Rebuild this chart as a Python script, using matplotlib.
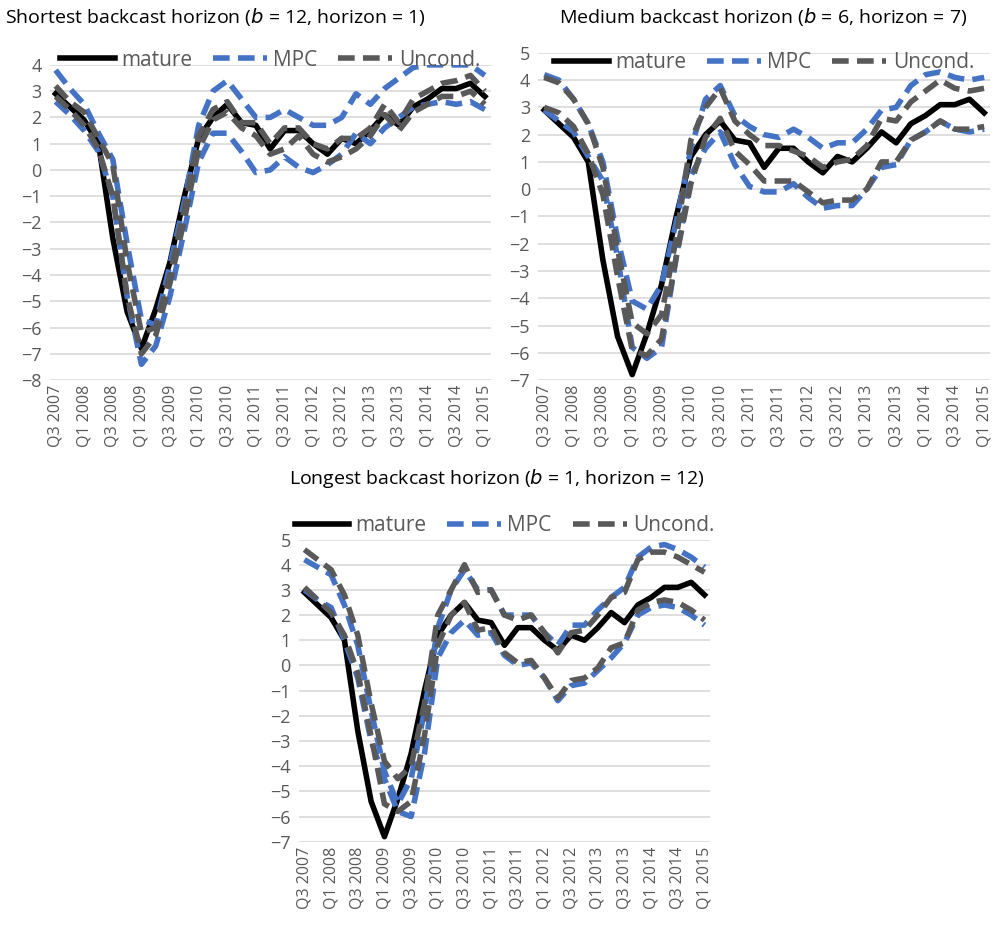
import matplotlib
matplotlib.use("Agg")
import matplotlib.pyplot as plt
import numpy as np

plt.rcParams['font.family'] = ['Open Sans', 'DejaVu Sans']

quarters = ["Q3 2007", "Q4 2007", "Q1 2008", "Q2 2008", "Q3 2008", "Q4 2008", "Q1 2009", "Q2 2009",
            "Q3 2009", "Q4 2009", "Q1 2010", "Q2 2010", "Q3 2010", "Q4 2010", "Q1 2011", "Q2 2011",
            "Q3 2011", "Q4 2011", "Q1 2012", "Q2 2012", "Q3 2012", "Q4 2012", "Q1 2013", "Q2 2013",
            "Q3 2013", "Q4 2013", "Q1 2014", "Q2 2014", "Q3 2014", "Q4 2014", "Q1 2015"]

mature = [2.9, 2.4, 1.9, 1.0, -2.6, -5.4, -6.8, -5.3, -3.5, -1.0, 1.2, 2.0, 2.5, 1.8, 1.7, 0.8,
          1.5, 1.5, 1.0, 0.6, 1.2, 1.0, 1.5, 2.1, 1.7, 2.4, 2.7, 3.1, 3.1, 3.3, 2.8]

# panel 1: shortest backcast horizon
p1_mpc_hi = [3.8, 3.1, 2.5, 1.4, 0.4, -2.8, -5.7, -5.9, -3.6, -1.2, 1.7, 3.0, 3.4, 2.7, 2.0, 2.0,
             2.3, 2.0, 1.7, 1.7, 2.0, 2.9, 2.5, 3.1, 3.5, 3.9, 4.0, 4.0, 4.0, 4.0, 3.6]
p1_mpc_lo = [2.6, 2.1, 1.5, 0.7, -1.0, -4.8, -7.4, -6.7, -4.8, -2.3, 0.3, 1.4, 1.4, 0.7, -0.1, 0.0,
             0.5, 0.1, -0.1, 0.2, 0.6, 1.4, 1.0, 1.6, 2.0, 2.4, 2.5, 2.6, 2.5, 2.6, 2.3]
p1_unc_hi = [3.2, 2.6, 2.2, 1.2, 0.2, -3.5, -6.2, -6.0, -4.0, -1.5, 1.3, 2.3, 2.6, 1.8, 1.8, 1.0,
             1.6, 1.6, 1.0, 0.8, 1.2, 1.2, 1.6, 2.5, 1.8, 2.7, 3.0, 3.3, 3.4, 3.6, 3.0]
p1_unc_lo = [2.8, 2.3, 1.7, 0.8, -1.0, -4.8, -7.0, -6.3, -4.3, -1.9, 0.8, 1.9, 2.2, 1.6, 1.3, 0.6,
             0.8, 1.3, 0.6, 0.3, 0.5, 0.8, 1.3, 2.1, 1.5, 2.2, 2.5, 2.8, 2.8, 3.0, 2.5]

# panel 2: medium backcast horizon
p2_mpc_hi = [4.2, 4.0, 3.3, 2.4, 1.0, -1.8, -4.1, -4.4, -3.5, -1.2, 1.5, 3.3, 3.8, 2.7, 2.3, 2.0,
             1.9, 2.2, 1.9, 1.5, 1.7, 1.7, 2.2, 2.9, 3.0, 3.8, 4.2, 4.3, 4.1, 4.0, 4.1]
p2_mpc_lo = [2.9, 2.5, 2.1, 1.2, 0.3, -2.5, -5.8, -6.2, -5.8, -2.5, 0.5, 1.5, 2.1, 0.9, 0.1, -0.1,
             -0.1, 0.2, -0.3, -0.7, -0.6, -0.6, 0.0, 0.8, 0.9, 1.8, 2.1, 2.5, 2.2, 2.1, 2.2]
p2_unc_hi = [4.1, 3.9, 3.3, 2.4, 0.8, -2.2, -4.9, -5.3, -4.6, -1.8, 1.8, 3.0, 3.7, 2.5, 2.0, 1.6,
             1.6, 1.4, 1.2, 0.8, 1.0, 1.1, 1.6, 2.6, 2.5, 3.2, 3.6, 4.0, 3.7, 3.6, 3.7]
p2_unc_lo = [3.0, 2.8, 2.3, 1.3, -0.2, -3.2, -5.9, -6.1, -5.5, -2.5, 0.2, 1.9, 2.6, 1.4, 0.9, 0.3,
             0.3, 0.3, -0.1, -0.5, -0.4, -0.4, 0.0, 1.0, 1.0, 1.8, 2.1, 2.5, 2.2, 2.2, 2.3]

# panel 3: longest backcast horizon
p3_mpc_hi = [4.2, 3.9, 3.6, 2.4, 0.8, -1.8, -4.2, -5.5, -4.5, -1.8, 1.5, 3.0, 3.8, 3.0, 3.0, 2.0,
             2.0, 2.0, 1.3, 0.8, 1.6, 1.6, 2.2, 2.7, 3.1, 4.3, 4.7, 4.8, 4.6, 4.3, 3.9]
p3_mpc_lo = [3.0, 2.6, 2.3, 1.0, -0.5, -3.0, -4.5, -5.8, -6.0, -3.5, 0.3, 1.3, 1.8, 1.2, 1.3, 0.4,
             0.0, 0.1, -0.5, -1.4, -0.8, -0.7, -0.2, 0.3, 0.9, 2.0, 2.3, 2.4, 2.3, 2.0, 1.6]
p3_unc_hi = [4.6, 4.2, 3.8, 2.8, 1.2, -1.5, -3.8, -4.5, -4.0, -1.5, 2.0, 3.0, 4.0, 2.9, 3.0, 2.0,
             1.8, 2.0, 1.3, 0.5, 1.3, 1.4, 2.0, 2.7, 2.9, 4.2, 4.5, 4.5, 4.3, 4.0, 3.7]
p3_unc_lo = [3.1, 2.6, 2.1, 1.2, -0.3, -2.8, -5.5, -5.8, -5.4, -2.8, 0.8, 2.0, 2.5, 1.4, 1.5, 0.5,
             0.1, 0.2, -0.5, -1.3, -0.6, -0.5, -0.1, 0.7, 0.9, 2.2, 2.5, 2.6, 2.5, 2.2, 1.8]

BLUE = "#4472C4"
DGRAY = "#595959"
TXT = "#595959"

fig = plt.figure(figsize=(9.97, 9.27), dpi=100)


def panel(rect, mpc_hi, mpc_lo, unc_hi, unc_lo, ylo, yhi, leg_y):
    ax = fig.add_axes(rect)
    x = np.arange(len(quarters))
    dash = (0, (3.0, 1.5))
    ax.plot(x, mature, color="black", lw=4, label="mature", zorder=3)
    ax.plot(x, mpc_hi, color=BLUE, lw=4, ls=dash, label="MPC", zorder=4)
    ax.plot(x, mpc_lo, color=BLUE, lw=4, ls=dash, zorder=4)
    ax.plot(x, unc_hi, color=DGRAY, lw=4, ls=dash, label="Uncond.", zorder=5)
    ax.plot(x, unc_lo, color=DGRAY, lw=4, ls=dash, zorder=5)
    ax.set_xlim(-0.4, 30.4)
    ax.set_ylim(ylo, yhi)
    ax.set_yticks(range(ylo, yhi + 1))
    ax.set_xticks(x[::2])
    ax.set_xticklabels(quarters[::2], rotation=90)
    ax.grid(axis="y", color="#d9d9d9", lw=1.2)
    ax.set_axisbelow(True)
    for s in ax.spines.values():
        s.set_visible(False)
    ax.tick_params(length=0, labelsize=11.5, colors=TXT)
    ax.tick_params(axis="y", labelsize=13, pad=6)
    ax.legend(loc="center", bbox_to_anchor=(0.5, leg_y), ncol=3, frameon=False,
              fontsize=15, labelcolor=TXT, handlelength=2.6, columnspacing=1.0,
              handletextpad=0.3, borderaxespad=0)
    return ax


panel([0.050, 0.590, 0.442, 0.340], p1_mpc_hi, p1_mpc_lo, p1_unc_hi, p1_unc_lo, -8, 4, 1.015)
panel([0.540, 0.590, 0.453, 0.353], p2_mpc_hi, p2_mpc_lo, p2_unc_hi, p2_unc_lo, -7, 5, 0.97)
panel([0.300, 0.092, 0.412, 0.326], p3_mpc_hi, p3_mpc_lo, p3_unc_hi, p3_unc_lo, -7, 5, 1.045)

fig.text(0.005, 0.982, "Shortest backcast horizon ($b$ = 12, horizon = 1)", fontsize=14, va="center")
fig.text(0.765, 0.982, "Medium backcast horizon ($b$ = 6, horizon = 7)", fontsize=14, va="center", ha="center")
fig.text(0.498, 0.484, "Longest backcast horizon ($b$ = 1, horizon = 12)", fontsize=14, va="center", ha="center")

fig.savefig("out.png", dpi=100)
